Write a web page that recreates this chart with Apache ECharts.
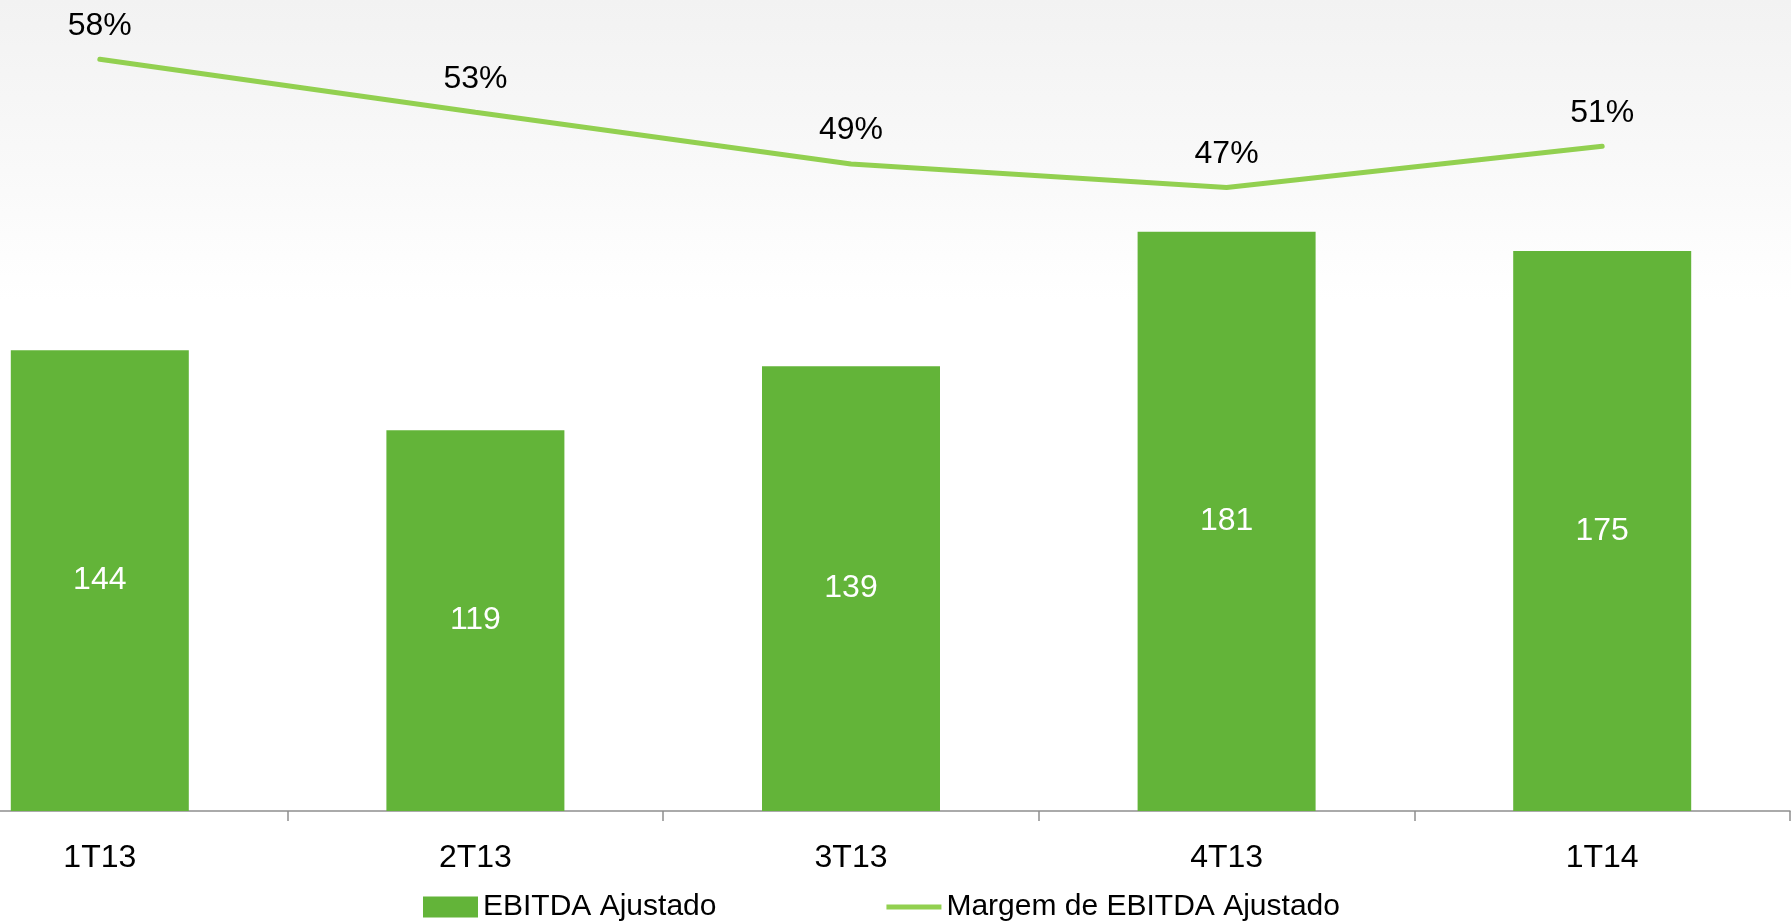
<!DOCTYPE html>
<html>
<head>
<meta charset="utf-8">
<script src="https://cdn.jsdelivr.net/npm/echarts@6/dist/echarts.min.js"></script>
<style>
  html, body { margin: 0; padding: 0; overflow: hidden; width: 1791px; height: 923px; }
  body { position: relative; background: linear-gradient(to bottom, #f2f2f2 0px, #f9f9f9 170px, #ffffff 300px); }
  /* the first category band starts off-screen, so the chart box is shifted left */
  #main { position: absolute; left: -88px; top: 0; width: 1879px; height: 923px; }
</style>
</head>
<body>
<div id="main"></div>
<script>
var categories = ['1T13', '2T13', '3T13', '4T13', '1T14'];
var ebitda = [144, 119, 139, 181, 175];
var margem = [57.9, 53.4, 49.0, 47.0, 50.5];
var barName = 'EBITDA Ajustado';
var lineName = 'Margem de EBITDA Ajustado';

var font = "'Liberation Sans', Arial, sans-serif";
var lineColor = '#92d050';

var option = {
  animation: false,
  backgroundColor: 'transparent',
  legend: {
    left: 506,
    top: 887,
    itemGap: 170,
    itemWidth: 55,
    itemHeight: 21,
    textStyle: { fontFamily: font, fontSize: 30, color: '#000' },
    data: [
      { name: barName, icon: 'rect' },
      { name: lineName, icon: 'path://M0,0h110v10h-110z', itemStyle: { color: lineColor } }
    ]
  },
  grid: { left: 0, right: 1, top: 11, bottom: 112 },
  xAxis: {
    type: 'category',
    data: categories,
    axisLine: { lineStyle: { color: '#8f8f8f', width: 1.5 } },
    axisTick: { show: true, length: 10, lineStyle: { color: '#8f8f8f', width: 1.5 } },
    axisLabel: { margin: 31, fontFamily: font, fontSize: 32, color: '#000' }
  },
  yAxis: [
    { type: 'value', min: 0, max: 250, show: false, splitLine: { show: false } },
    { type: 'value', min: -6, max: 62, show: false, splitLine: { show: false } }
  ],
  series: [
    {
      name: barName,
      type: 'bar',
      barWidth: 178,
      data: ebitda,
      itemStyle: { color: '#63b439' },
      label: {
        show: true,
        position: 'inside',
        color: '#fff',
        fontFamily: font,
        fontSize: 32
      }
    },
    {
      name: lineName,
      type: 'line',
      yAxisIndex: 1,
      data: margem,
      symbol: 'none',
      lineStyle: { color: lineColor, width: 5, cap: 'round' },
      itemStyle: { color: lineColor }
    },
    {
      // carries the % labels of the line (scatter defaults to 0.8 opacity)
      name: 'labels',
      type: 'scatter',
      yAxisIndex: 1,
      data: margem,
      symbolSize: 1,
      silent: true,
      itemStyle: { color: 'rgba(0,0,0,0)', opacity: 1 },
      label: {
        show: true,
        position: 'top',
        distance: 17,
        color: '#000',
        fontFamily: font,
        fontSize: 32,
        formatter: function (p) { return Math.round(p.value) + '%'; }
      }
    }
  ]
};

var chart = echarts.init(document.getElementById('main'));
chart.setOption(option);
</script>
</body>
</html>
